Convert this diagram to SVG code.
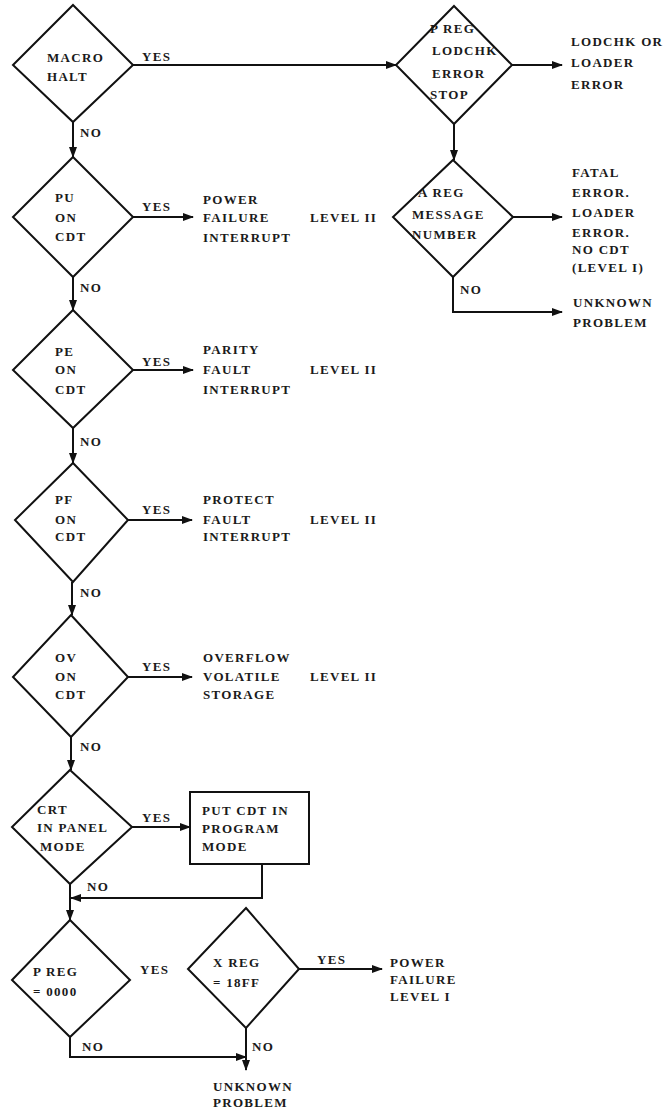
<svg xmlns="http://www.w3.org/2000/svg" width="663" height="1115" viewBox="0 0 663 1115">
<defs>
<marker id="ah" markerWidth="11" markerHeight="8" refX="10" refY="4" orient="auto" markerUnits="userSpaceOnUse">
<path d="M0,0 L11,4 L0,8 Z" fill="#111"/>
</marker>
<style>
.shape{fill:none;stroke:#111;stroke-width:2;stroke-linejoin:miter}
.conn{fill:none;stroke:#111;stroke-width:2;marker-end:url(#ah)}
text{font-family:"Liberation Serif","DejaVu Serif",serif;font-size:13px;font-weight:bold;letter-spacing:1.3px;fill:#1a1a1a}
</style>
</defs>
<rect width="663" height="1115" fill="#fff"/>

<g id="connectors">
<line class="conn" x1="133" y1="65" x2="396" y2="65"/>
<line class="conn" x1="73" y1="122" x2="73" y2="157"/>
<line class="conn" x1="512" y1="65" x2="562" y2="65"/>
<line class="conn" x1="454" y1="124" x2="454" y2="160"/>
<line class="conn" x1="513" y1="217" x2="562" y2="217"/>
<path class="conn" d="M453,277 L453,312 L562,312"/>
<line class="conn" x1="133" y1="217" x2="193" y2="217"/>
<line class="conn" x1="73" y1="277" x2="73" y2="310"/>
<line class="conn" x1="133" y1="370" x2="193" y2="370"/>
<line class="conn" x1="73" y1="428" x2="73" y2="463"/>
<line class="conn" x1="128" y1="520" x2="192" y2="520"/>
<line class="conn" x1="72" y1="582" x2="72" y2="615"/>
<line class="conn" x1="128" y1="677" x2="192" y2="677"/>
<line class="conn" x1="71" y1="737" x2="71" y2="770"/>
<line class="conn" x1="132" y1="827" x2="190" y2="827"/>
<path class="conn" d="M262,864 L262,898 L71,898"/>
<line class="conn" x1="70" y1="884" x2="70" y2="920"/>
<line class="conn" x1="299" y1="969" x2="382" y2="969"/>
<path class="conn" d="M70,1037 L70,1057 L246,1057"/>
<line class="conn" x1="246" y1="1028" x2="246" y2="1070"/>
<text x="142" y="61">YES</text>
<text x="80" y="137">NO</text>
<text x="460" y="294">NO</text>
<text x="142" y="211">YES</text>
<text x="80" y="292">NO</text>
<text x="142" y="366">YES</text>
<text x="80" y="446">NO</text>
<text x="142" y="514">YES</text>
<text x="80" y="597">NO</text>
<text x="142" y="671">YES</text>
<text x="80" y="751">NO</text>
<text x="142" y="822">YES</text>
<text x="87" y="891">NO</text>
<text x="140" y="974">YES</text>
<text x="317" y="964">YES</text>
<text x="82" y="1051">NO</text>
<text x="252" y="1051">NO</text>
</g>

<g id="macro-halt">
<polygon class="shape" points="73,5 133,65 73,122 13,65"/>
<text x="47" y="62">MACRO</text>
<text x="47" y="81">HALT</text>
</g>

<g id="p-reg-lodchk">
<polygon class="shape" points="454,6 512,65 454,124 396,65"/>
<text x="430" y="33">P REG</text>
<text x="432" y="55">LODCHK</text>
<text x="432" y="78">ERROR</text>
<text x="430" y="99">STOP</text>
</g>

<g id="lodchk-error">
<text x="571" y="46">LODCHK OR</text>
<text x="571" y="67">LOADER</text>
<text x="571" y="89">ERROR</text>
</g>

<g id="a-reg">
<polygon class="shape" points="453,160 513,217 453,277 393,217"/>
<text x="418" y="197">A REG</text>
<text x="412" y="219">MESSAGE</text>
<text x="412" y="239">NUMBER</text>
</g>

<g id="fatal-error">
<text x="572" y="177">FATAL</text>
<text x="572" y="197">ERROR.</text>
<text x="572" y="217">LOADER</text>
<text x="572" y="237">ERROR.</text>
<text x="572" y="254">NO CDT</text>
<text x="572" y="272">(LEVEL I)</text>
</g>

<g id="unknown-problem-1">
<text x="573" y="307">UNKNOWN</text>
<text x="573" y="327">PROBLEM</text>
</g>

<g id="pu-on-cdt">
<polygon class="shape" points="73,157 133,217 73,277 13,217"/>
<text x="55" y="202">PU</text>
<text x="55" y="222">ON</text>
<text x="55" y="241">CDT</text>
</g>
<g id="power-failure-interrupt">
<text x="203" y="204">POWER</text>
<text x="203" y="222">FAILURE</text>
<text x="203" y="242">INTERRUPT</text>
<text x="310" y="222">LEVEL II</text>
</g>

<g id="pe-on-cdt">
<polygon class="shape" points="73,310 133,370 73,428 13,370"/>
<text x="55" y="356">PE</text>
<text x="55" y="374">ON</text>
<text x="55" y="394">CDT</text>
</g>
<g id="parity-fault-interrupt">
<text x="203" y="354">PARITY</text>
<text x="203" y="374">FAULT</text>
<text x="203" y="394">INTERRUPT</text>
<text x="310" y="374">LEVEL II</text>
</g>

<g id="pf-on-cdt">
<polygon class="shape" points="73,463 128,520 73,582 15,520"/>
<text x="55" y="504">PF</text>
<text x="55" y="524">ON</text>
<text x="55" y="541">CDT</text>
</g>
<g id="protect-fault-interrupt">
<text x="203" y="504">PROTECT</text>
<text x="203" y="524">FAULT</text>
<text x="203" y="541">INTERRUPT</text>
<text x="310" y="524">LEVEL II</text>
</g>

<g id="ov-on-cdt">
<polygon class="shape" points="71,615 128,677 71,737 13,677"/>
<text x="55" y="662">OV</text>
<text x="55" y="681">ON</text>
<text x="55" y="699">CDT</text>
</g>
<g id="overflow-volatile-storage">
<text x="203" y="662">OVERFLOW</text>
<text x="203" y="681">VOLATILE</text>
<text x="203" y="699">STORAGE</text>
<text x="310" y="681">LEVEL II</text>
</g>

<g id="crt-panel-mode">
<polygon class="shape" points="70,770 132,827 70,884 12,827"/>
<text x="37" y="814">CRT</text>
<text x="37" y="832">IN PANEL</text>
<text x="40" y="851">MODE</text>
</g>

<g id="put-cdt-program-mode">
<rect class="shape" x="190" y="792" width="119" height="72"/>
<text x="202" y="815">PUT CDT IN</text>
<text x="202" y="833">PROGRAM</text>
<text x="202" y="851">MODE</text>
</g>

<g id="p-reg-0000">
<polygon class="shape" points="70,920 130,980 70,1037 12,980"/>
<text x="33" y="976">P REG</text>
<text x="33" y="996">= 0000</text>
</g>

<g id="x-reg-18ff">
<polygon class="shape" points="246,908 299,969 246,1028 188,969"/>
<text x="213" y="967">X REG</text>
<text x="213" y="987">= 18FF</text>
</g>

<g id="power-failure-level-1">
<text x="390" y="967">POWER</text>
<text x="390" y="984">FAILURE</text>
<text x="390" y="1001">LEVEL I</text>
</g>

<g id="unknown-problem-2">
<text x="213" y="1091">UNKNOWN</text>
<text x="213" y="1107">PROBLEM</text>
</g>
</svg>
